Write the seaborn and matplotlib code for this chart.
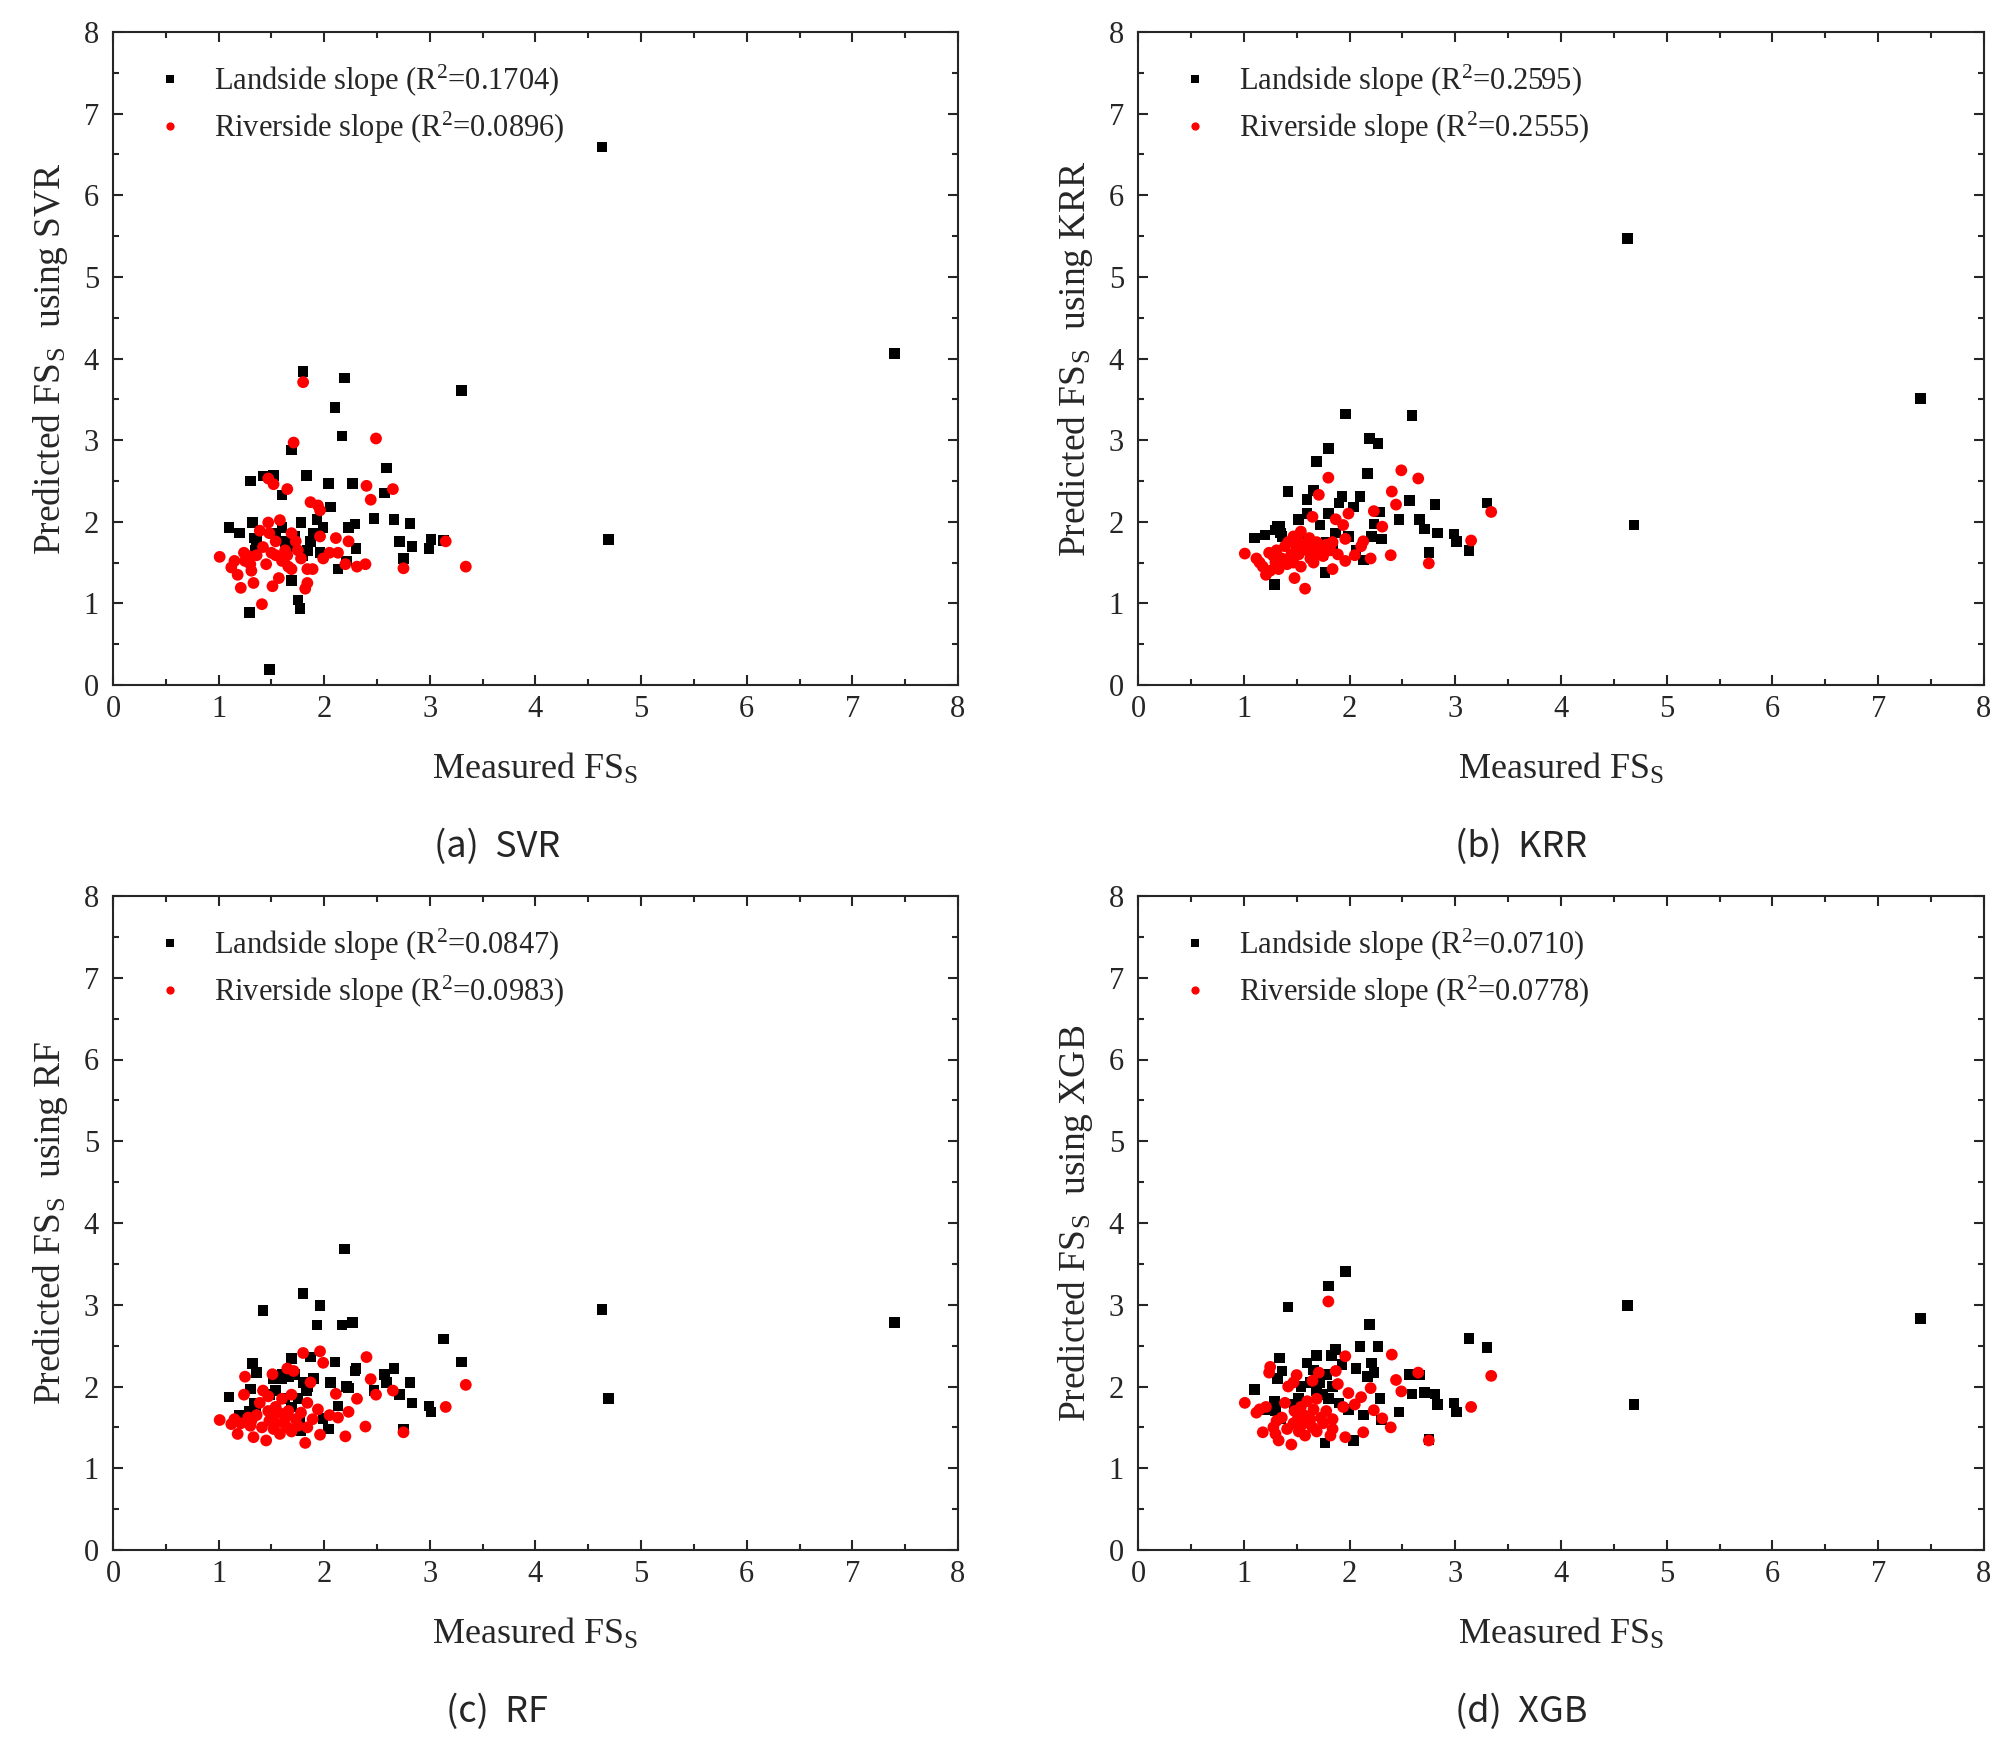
import numpy as np
import pandas as pd
import matplotlib
matplotlib.use("Agg")
import matplotlib.pyplot as plt
from matplotlib.ticker import MultipleLocator
import seaborn as sns

# measured FS_S (same in every panel)
land_measured = [1.10, 1.20, 1.29, 1.30, 1.32, 1.34, 1.35, 1.36, 1.42, 1.48,
                 1.52, 1.54, 1.60, 1.60, 1.63, 1.66, 1.69, 1.69, 1.72, 1.75,
                 1.77, 1.78, 1.80, 1.80, 1.83, 1.84, 1.87, 1.90, 1.93, 1.96,
                 1.99, 2.04, 2.06, 2.10, 2.13, 2.17, 2.19, 2.21, 2.23, 2.27,
                 2.29, 2.30, 2.47, 2.57, 2.59, 2.66, 2.71, 2.75, 2.81, 2.83,
                 2.99, 3.01, 3.13, 3.30, 4.63, 4.69, 7.40]
river_measured = [1.01, 1.12, 1.15, 1.18, 1.21, 1.24, 1.25, 1.28, 1.30, 1.31,
                  1.33, 1.36, 1.39, 1.41, 1.42, 1.45, 1.47, 1.47, 1.48, 1.50,
                  1.51, 1.52, 1.54, 1.54, 1.57, 1.58, 1.60, 1.62, 1.63, 1.65,
                  1.65, 1.66, 1.69, 1.69, 1.71, 1.73, 1.75, 1.78, 1.80, 1.82,
                  1.84, 1.84, 1.87, 1.89, 1.94, 1.96, 1.96, 1.99, 2.05, 2.11,
                  2.13, 2.20, 2.23, 2.31, 2.39, 2.40, 2.44, 2.49, 2.65, 2.75,
                  3.15, 3.34]

# predicted FS_S, landside
land_svr = [1.93, 1.86, 0.89, 2.50, 1.99, 1.80, 1.65, 1.76, 2.56, 0.19,
            2.57, 1.86, 2.33, 1.93, 1.76, 1.70, 2.88, 1.28, 1.82, 1.04,
            0.94, 1.99, 3.84, 1.59, 2.57, 1.65, 1.76, 1.86, 2.03, 1.62,
            1.93, 2.47, 2.18, 3.40, 1.42, 3.05, 3.76, 1.52, 1.93, 2.47,
            1.97, 1.67, 2.04, 2.35, 2.66, 2.03, 1.76, 1.55, 1.98, 1.70,
            1.67, 1.78, 1.77, 3.61, 6.59, 1.78, 4.06]
land_krr = [1.80, 1.84, 1.23, 1.90, 1.95, 1.94, 1.86, 1.82, 2.37, 1.75,
            2.03, 1.80, 2.27, 2.10, 1.70, 2.38, 2.74, 1.65, 1.96, 1.60,
            1.38, 1.75, 2.90, 2.10, 1.72, 1.70, 1.86, 2.23, 2.31, 3.32,
            1.82, 2.18, 1.65, 2.31, 1.53, 2.59, 3.02, 1.82, 1.97, 2.96,
            2.12, 1.79, 2.03, 2.26, 3.30, 2.03, 1.91, 1.62, 2.21, 1.86,
            1.85, 1.76, 1.65, 2.23, 5.47, 1.96, 3.51]
land_rf = [1.87, 1.65, 1.70, 1.97, 2.28, 1.80, 1.75, 2.17, 2.93, 1.90,
           2.10, 1.95, 2.15, 2.10, 1.85, 2.12, 2.34, 1.75, 2.15, 1.85,
           1.60, 1.46, 3.14, 2.05, 1.95, 2.00, 2.36, 2.10, 2.75, 2.99,
           1.61, 1.48, 2.05, 2.30, 1.76, 2.75, 3.68, 2.00, 1.98, 2.78,
           2.19, 2.22, 1.95, 2.15, 2.05, 2.22, 1.90, 1.48, 2.05, 1.80,
           1.76, 1.69, 2.58, 2.30, 2.94, 1.85, 2.78]
land_xgb = [1.96, 1.72, 1.82, 1.70, 2.10, 2.35, 1.60, 2.19, 2.97, 1.78,
            1.85, 2.00, 2.29, 1.58, 2.05, 2.20, 2.38, 1.95, 2.05, 1.90,
            1.31, 2.15, 3.23, 1.85, 2.38, 2.00, 2.45, 1.80, 2.27, 3.41,
            1.72, 1.34, 2.22, 2.49, 1.65, 2.12, 2.76, 2.29, 2.17, 2.49,
            1.85, 1.59, 1.69, 2.15, 1.91, 2.14, 1.93, 1.35, 1.91, 1.78,
            1.80, 1.69, 2.59, 2.48, 2.99, 1.78, 2.83]

# predicted FS_S, riverside
river_svr = [1.57, 1.44, 1.52, 1.35, 1.19, 1.62, 1.52, 1.58, 1.48, 1.40,
             1.25, 1.59, 1.89, 0.99, 1.69, 1.48, 2.53, 1.99, 1.86, 1.62,
             1.21, 2.46, 1.59, 1.76, 1.31, 2.02, 1.52, 1.55, 1.65, 2.40,
             1.59, 1.45, 1.86, 1.42, 2.97, 1.76, 1.65, 1.55, 3.71, 1.18,
             1.25, 1.42, 2.24, 1.42, 2.20, 2.14, 1.82, 1.55, 1.62, 1.80,
             1.62, 1.48, 1.76, 1.45, 1.48, 2.44, 2.27, 3.02, 2.40, 1.43,
             1.76, 1.45]
river_krr = [1.61, 1.55, 1.50, 1.45, 1.35, 1.62, 1.40, 1.58, 1.50, 1.65,
             1.42, 1.55, 1.70, 1.48, 1.75, 1.60, 1.82, 1.50, 1.31, 1.68,
             1.78, 1.60, 1.88, 1.45, 1.72, 1.18, 1.65, 1.80, 1.55, 2.06,
             1.70, 1.50, 1.75, 1.62, 2.33, 1.68, 1.58, 1.72, 2.54, 1.65,
             1.42, 1.75, 2.03, 1.60, 1.96, 1.52, 1.79, 2.10, 1.59, 1.70,
             1.76, 1.55, 2.13, 1.94, 1.59, 2.37, 2.21, 2.63, 2.53, 1.49,
             1.77, 2.12]
river_rf = [1.59, 1.54, 1.60, 1.42, 1.55, 1.90, 2.12, 1.62, 1.52, 1.58,
            1.38, 1.65, 1.80, 1.50, 1.95, 1.34, 1.88, 1.70, 1.58, 1.62,
            2.15, 1.48, 1.75, 1.55, 1.68, 1.42, 1.85, 1.55, 1.62, 2.22,
            1.50, 1.70, 1.90, 1.45, 2.19, 1.60, 1.52, 1.68, 2.41, 1.31,
            1.50, 1.80, 2.05, 1.60, 1.72, 2.43, 1.41, 2.29, 1.65, 1.91,
            1.62, 1.39, 1.69, 1.85, 1.51, 2.36, 2.09, 1.90, 1.95, 1.44,
            1.75, 2.02]
river_xgb = [1.80, 1.68, 1.72, 1.44, 1.75, 2.17, 2.24, 1.50, 1.42, 1.58,
             1.34, 1.62, 1.80, 1.48, 2.00, 1.29, 2.05, 1.55, 1.70, 2.14,
             1.60, 1.45, 1.75, 1.52, 1.65, 1.40, 1.82, 1.55, 1.60, 2.07,
             1.50, 1.72, 1.85, 1.45, 2.17, 1.62, 1.55, 1.70, 3.04, 1.40,
             1.60, 1.48, 2.19, 2.03, 1.75, 2.37, 1.38, 1.92, 1.78, 1.87,
             1.44, 1.98, 1.71, 1.61, 1.50, 2.39, 2.08, 1.94, 2.17, 1.34,
             1.75, 2.13]

models = ["SVR", "KRR", "RF", "XGB"]
captions = ["(a)  SVR", "(b)  KRR", "(c)  RF", "(d)  XGB"]
land_pred = [land_svr, land_krr, land_rf, land_xgb]
river_pred = [river_svr, river_krr, river_rf, river_xgb]
land_r2 = ["0.1704", "0.2595", "0.0847", "0.0710"]
river_r2 = ["0.0896", "0.2555", "0.0983", "0.0778"]

sns.set_style("ticks")
plt.rcParams["font.family"] = ["Liberation Serif", "DejaVu Serif"]
plt.rcParams["mathtext.fontset"] = "custom"
plt.rcParams["mathtext.rm"] = "Liberation Serif"
plt.rcParams["mathtext.it"] = "Liberation Serif:italic"

W, H = 2008, 1738
fig = plt.figure(figsize=(W / 100, H / 100), dpi=100)

# axes boxes in pixels: left, top, right, bottom
boxes = [(113, 32, 958, 685), (1138, 32, 1984, 685),
         (113, 896, 958, 1550), (1138, 896, 1984, 1550)]
cap_pos = [(497, 847), (1521, 847), (497, 1712), (1521, 1712)]

for i, m in enumerate(models):
    l, t, r, b = boxes[i]
    ax = fig.add_axes([l / W, 1 - b / H, (r - l) / W, (b - t) / H])

    lab_land = "Landside slope (R$^{\\mathregular{2}}$=" + land_r2[i] + ")"
    lab_river = "Riverside slope (R$^{\\mathregular{2}}$=" + river_r2[i] + ")"
    df = pd.concat([
        pd.DataFrame({"measured": land_measured, "pred": land_pred[i], "slope": lab_land}),
        pd.DataFrame({"measured": river_measured, "pred": river_pred[i], "slope": lab_river}),
    ], ignore_index=True)

    sns.scatterplot(data=df, x="measured", y="pred", hue="slope", style="slope",
                    size="slope", sizes={lab_land: 58, lab_river: 72},
                    markers=["s", "o"], palette=["black", "red"],
                    linewidth=0, ax=ax)

    leg = ax.get_legend()
    handles = leg.legend_handles
    labels = [tx.get_text() for tx in leg.texts]
    ax.legend(handles, labels, loc="upper left", frameon=False, fontsize=22,
              handlelength=0.8, handletextpad=1.05, labelspacing=0.35,
              borderaxespad=0.5, bbox_to_anchor=(0.02, 0.995), markerscale=0.7)

    ax.set_xlim(0, 8)
    ax.set_ylim(0, 8)
    ax.xaxis.set_major_locator(MultipleLocator(1))
    ax.xaxis.set_minor_locator(MultipleLocator(0.5))
    ax.yaxis.set_major_locator(MultipleLocator(1))
    ax.yaxis.set_minor_locator(MultipleLocator(0.5))
    ax.tick_params(which="both", direction="in", top=True, right=True, width=1.5)
    ax.tick_params(which="major", length=7, labelsize=22)
    ax.tick_params(axis="x", which="major", pad=7)
    ax.tick_params(axis="y", which="major", pad=10)
    ax.tick_params(which="minor", length=4)
    for sp in ax.spines.values():
        sp.set_linewidth(1.5)

    ax.set_xlabel("Measured FS$_\\mathregular{S}$", fontsize=26, labelpad=20)
    ax.set_ylabel("Predicted FS$_\\mathregular{S}$  using " + m, fontsize=27, labelpad=10)

    cx, cy = cap_pos[i]
    fig.text(cx / W, 1 - cy / H, captions[i], ha="center", va="center",
             fontsize=26, family=["Noto Sans CJK KR", "DejaVu Sans"])

fig.savefig("out.png", dpi=100)
